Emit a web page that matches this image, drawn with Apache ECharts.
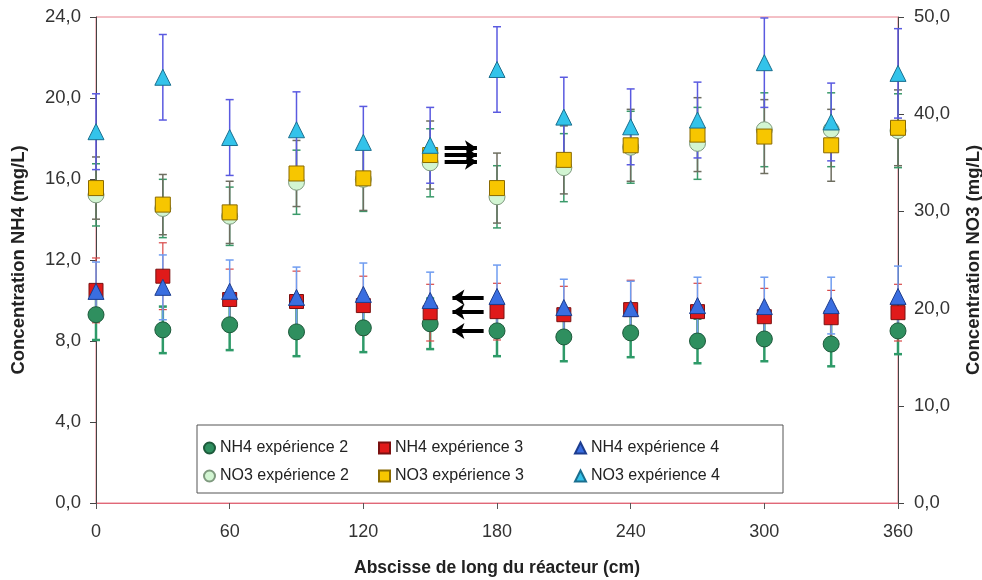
<!DOCTYPE html>
<html>
<head>
<meta charset="utf-8">
<script src="https://cdn.jsdelivr.net/npm/echarts@6/dist/echarts.min.js"></script>
<style>
  html, body { margin: 0; padding: 0; background: #fff; }
  #chart { width: 982px; height: 580px; }
</style>
</head>
<body>
<div id="chart"></div>
<script>
// positions le long du réacteur (cm)
var posList = [0, 30, 60, 90, 120, 150, 180, 210, 240, 270, 300, 330, 360];

// NH4 (axe gauche, mg/L)
var nh4Exp2 = [9.3, 8.55, 8.8, 8.45, 8.65, 8.85, 8.5, 8.2, 8.4, 8.0, 8.1, 7.85, 8.5];
var nh4Exp2Err = [1.25, 1.15, 1.25, 1.2, 1.2, 1.25, 1.25, 1.2, 1.2, 1.1, 1.1, 1.1, 1.15];
var nh4Exp3 = [10.5, 11.2, 10.05, 9.95, 9.75, 9.4, 9.45, 9.3, 9.55, 9.45, 9.2, 9.15, 9.4];
var nh4Exp3Err = [1.6, 1.65, 1.5, 1.5, 1.45, 1.4, 1.4, 1.4, 1.45, 1.4, 1.4, 1.35, 1.4];
var nh4Exp4 = [10.45, 10.65, 10.45, 10.15, 10.3, 10.0, 10.2, 9.65, 9.6, 9.75, 9.7, 9.75, 10.2];
var nh4Exp4Err = [1.45, 1.6, 1.55, 1.5, 1.55, 1.4, 1.55, 1.4, 1.35, 1.4, 1.45, 1.4, 1.5];

// NO3 (axe droit, mg/L)
var no3Exp2 = [31.7, 30.3, 29.5, 33.0, 33.3, 35.0, 31.5, 34.5, 36.6, 37.0, 38.4, 38.4, 38.3];
var no3Exp2Err = [3.2, 3.0, 3.0, 3.3, 3.3, 3.5, 3.2, 3.5, 3.7, 3.7, 3.8, 3.8, 3.8];
var no3Exp3 = [32.4, 30.7, 29.9, 33.9, 33.4, 35.8, 32.4, 35.3, 36.8, 37.9, 37.7, 36.8, 38.6];
var no3Exp3Err = [3.2, 3.1, 3.2, 3.4, 3.3, 3.5, 3.6, 3.5, 3.7, 3.8, 3.8, 3.7, 3.9];
var no3Exp4 = [38.2, 43.8, 37.6, 38.4, 37.1, 36.8, 44.6, 39.7, 38.7, 39.4, 45.3, 39.2, 44.2];
var no3Exp4Err = [3.9, 4.4, 3.9, 3.9, 3.7, 3.9, 4.4, 4.1, 3.9, 3.9, 4.6, 4.0, 4.6];

var font = 'Liberation Sans, Arial, sans-serif';

var chart = echarts.init(document.getElementById('chart'));

function points(vals) {
  return posList.map(function (x, i) { return [x, vals[i]]; });
}
function bars(vals, errs) {
  return posList.map(function (x, i) { return [x, vals[i] - errs[i], vals[i] + errs[i]]; });
}
function errorSeries(vals, errs, color, width, axis) {
  return {
    type: 'custom',
    yAxisIndex: axis,
    silent: true,
    z: 1,
    encode: { x: 0, y: [1, 2] },
    data: bars(vals, errs),
    renderItem: function (params, api) {
      var lo = api.coord([api.value(0), api.value(1)]);
      var hi = api.coord([api.value(0), api.value(2)]);
      var half = 4;
      var st = { stroke: color, lineWidth: width };
      return {
        type: 'group',
        children: [
          { type: 'line', shape: { x1: lo[0], y1: lo[1], x2: hi[0], y2: hi[1] }, style: st },
          { type: 'line', shape: { x1: lo[0] - half, y1: lo[1], x2: lo[0] + half, y2: lo[1] }, style: st },
          { type: 'line', shape: { x1: hi[0] - half, y1: hi[1], x2: hi[0] + half, y2: hi[1] }, style: st }
        ]
      };
    }
  };
}
function scatter(name, vals, symbol, size, fill, border, axis, z) {
  return {
    name: name,
    type: 'scatter',
    yAxisIndex: axis,
    symbol: symbol,
    symbolSize: size,
    z: z,
    itemStyle: { color: fill, borderColor: border, borderWidth: 1, opacity: 1 },
    data: points(vals)
  };
}

var legendText = { fontFamily: font, fontSize: 16, color: '#222' };
function legendCol(left, names) {
  return {
    orient: 'vertical',
    left: left,
    top: 435,
    itemWidth: 11,
    itemHeight: 11,
    itemGap: 12,
    selectedMode: false,
    textStyle: legendText,
    data: names
  };
}

var labelFmt = function (v) { return v.toFixed(1).replace('.', ','); };

var option = {
  backgroundColor: '#fff',
  animation: false,
  grid: {
    left: 96, right: 84, top: 17, bottom: 77,
    containLabel: false, outerBoundsMode: 'none',
    show: true, borderColor: '#e8808c', borderWidth: 1
  },
  legend: [
    legendCol(198, ['NH4 expérience 2', 'NO3 expérience 2']),
    legendCol(373, ['NH4 expérience 3', 'NO3 expérience 3']),
    legendCol(569, ['NH4 expérience 4', 'NO3 expérience 4'])
  ],
  graphic: [{
    type: 'rect',
    z: 3,
    shape: { x: 197, y: 425, width: 586, height: 68 },
    style: { fill: '#fff', stroke: '#555', lineWidth: 1 }
  }],
  xAxis: {
    type: 'value',
    min: 0, max: 360, interval: 60,
    name: 'Abscisse de long du réacteur (cm)',
    nameLocation: 'middle',
    nameGap: 56,
    nameTextStyle: { fontFamily: font, fontSize: 17.5, fontWeight: 'bold', color: '#222' },
    axisLine: { lineStyle: { color: '#e06878', width: 1 } },
    axisTick: { show: true, length: 6, lineStyle: { color: '#555' } },
    axisLabel: { fontFamily: font, fontSize: 18, color: '#333', margin: 20 },
    splitLine: { show: false }
  },
  yAxis: [{
    type: 'value',
    min: 0, max: 24, interval: 4,
    name: 'Concentration NH4 (mg/L)',
    nameLocation: 'middle',
    nameGap: 68,
    nameTextStyle: { fontFamily: font, fontSize: 18.5, fontWeight: 'bold', color: '#222' },
    axisLine: { show: true, lineStyle: { color: '#444', width: 1 } },
    axisTick: { show: true, length: 6, lineStyle: { color: '#444' } },
    axisLabel: { fontFamily: font, fontSize: 18.5, color: '#333', margin: 15, formatter: labelFmt },
    splitLine: { show: false }
  }, {
    type: 'value',
    min: 0, max: 50, interval: 10,
    name: 'Concentration NO3 (mg/L)',
    nameLocation: 'middle',
    nameGap: 66,
    nameRotate: 90,
    nameTextStyle: { fontFamily: font, fontSize: 18.5, fontWeight: 'bold', color: '#222' },
    axisLine: { show: true, lineStyle: { color: '#444', width: 1 } },
    axisTick: { show: true, length: 6, lineStyle: { color: '#444' } },
    axisLabel: { fontFamily: font, fontSize: 18.5, color: '#333', margin: 16, formatter: labelFmt },
    splitLine: { show: false }
  }],
  series: [
    errorSeries(nh4Exp2, nh4Exp2Err, '#2e9a68', 2.5, 0),
    errorSeries(nh4Exp3, nh4Exp3Err, '#d84848', 1.2, 0),
    errorSeries(nh4Exp4, nh4Exp4Err, '#6f9cf0', 1.5, 0),
    errorSeries(no3Exp2, no3Exp2Err, '#3a9a6a', 1.5, 1),
    errorSeries(no3Exp3, no3Exp3Err, '#6e6e60', 1.5, 1),
    errorSeries(no3Exp4, no3Exp4Err, '#5a5ae0', 1.5, 1),
    scatter('NH4 expérience 2', nh4Exp2, 'circle', 16, '#2f8f5f', '#1d5a3b', 0, 4),
    scatter('NH4 expérience 3', nh4Exp3, 'rect', 14, '#e01a1a', '#7a1010', 0, 5),
    scatter('NH4 expérience 4', nh4Exp4, 'triangle', 16, '#3a6ee0', '#1d3d8f', 0, 6),
    scatter('NO3 expérience 2', no3Exp2, 'circle', 16, '#d2f5d2', '#7f9a7f', 1, 4),
    scatter('NO3 expérience 3', no3Exp3, 'rect', 15, '#f7c600', '#8a6a00', 1, 5),
    scatter('NO3 expérience 4', no3Exp4, 'triangle', 16, '#33c3ea', '#1a6f8f', 1, 6)
  ]
};

// flèches d'annotation (coordonnées en unités des axes)
option.series[7].markLine = {
  silent: true,
  symbol: ['none', 'arrow'],
  symbolSize: [12, 12],
  label: { show: false },
  lineStyle: { color: '#000', width: 4, type: 'solid' },
  data: [
    [{ coord: [174, 10.15] }, { coord: [160, 10.15] }],
    [{ coord: [174, 9.45] }, { coord: [160, 9.45] }],
    [{ coord: [174, 8.5] }, { coord: [160, 8.5] }]
  ]
};
option.series[10].markLine = {
  silent: true,
  symbol: ['none', 'arrow'],
  symbolSize: [12, 12],
  label: { show: false },
  lineStyle: { color: '#000', width: 4, type: 'solid' },
  data: [
    [{ coord: [156.5, 36.5] }, { coord: [171, 36.5] }],
    [{ coord: [156.5, 35.8] }, { coord: [171, 35.8] }],
    [{ coord: [156.5, 35.1] }, { coord: [171, 35.1] }]
  ]
};

chart.setOption(option);
</script>
</body>
</html>
